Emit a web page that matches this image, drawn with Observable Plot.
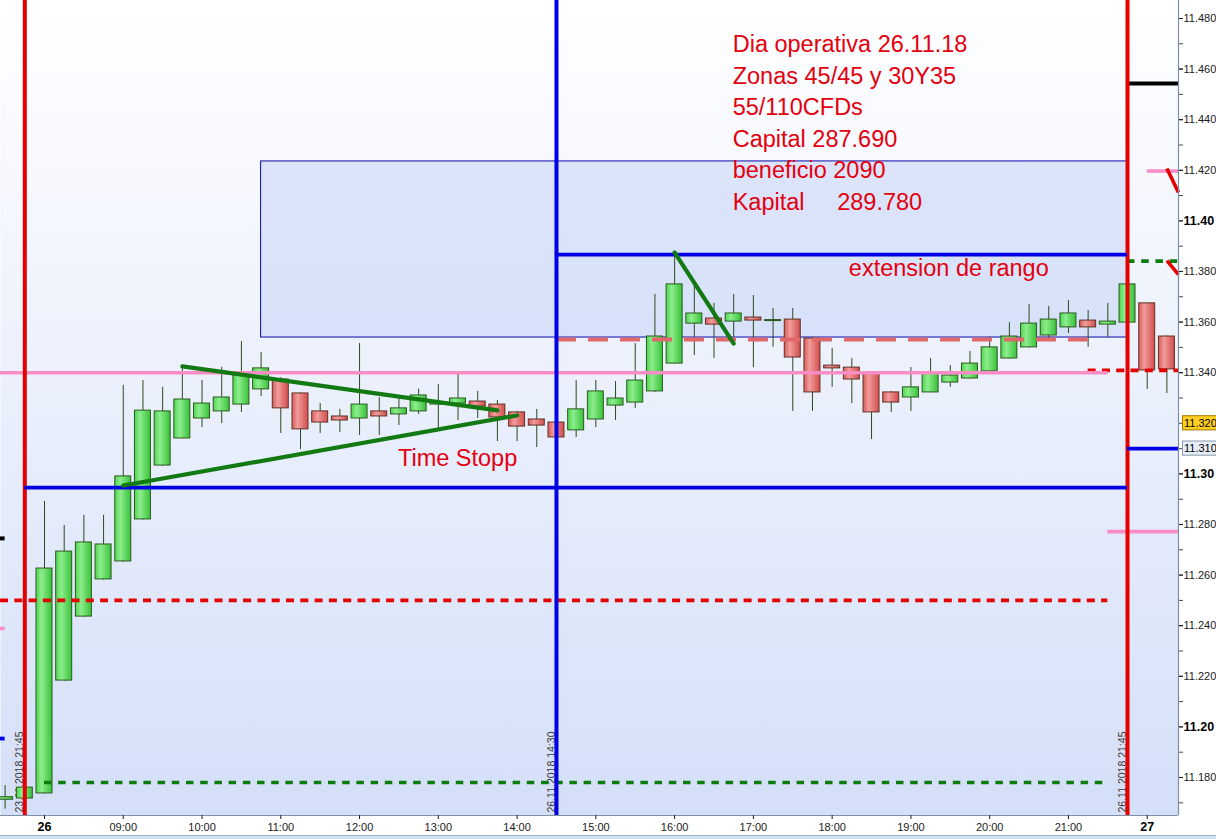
<!DOCTYPE html>
<html>
<head>
<meta charset="utf-8">
<script src="https://cdn.jsdelivr.net/npm/d3@7"></script>
<script src="https://cdn.jsdelivr.net/npm/@observablehq/plot@0.6"></script>
<style>
  html, body { margin: 0; padding: 0; background: #fff; overflow: hidden; }
  #chart svg { display: block; overflow: hidden; }
  #strip { height: 4px; width: 1216px; background: #cfe2ee; border-top: 1px solid #9eb1c2; box-sizing: border-box; }
</style>
</head>
<body>
<div id="chart"></div>
<div id="strip"></div>
<script>
// 15-minute candles, sessions 08:00-21:45
const times = [
  "2018-11-23 21:30","2018-11-23 21:45",
  "2018-11-26 08:00","2018-11-26 08:15","2018-11-26 08:30","2018-11-26 08:45",
  "2018-11-26 09:00","2018-11-26 09:15","2018-11-26 09:30","2018-11-26 09:45",
  "2018-11-26 10:00","2018-11-26 10:15","2018-11-26 10:30","2018-11-26 10:45",
  "2018-11-26 11:00","2018-11-26 11:15","2018-11-26 11:30","2018-11-26 11:45",
  "2018-11-26 12:00","2018-11-26 12:15","2018-11-26 12:30","2018-11-26 12:45",
  "2018-11-26 13:00","2018-11-26 13:15","2018-11-26 13:30","2018-11-26 13:45",
  "2018-11-26 14:00","2018-11-26 14:15","2018-11-26 14:30","2018-11-26 14:45",
  "2018-11-26 15:00","2018-11-26 15:15","2018-11-26 15:30","2018-11-26 15:45",
  "2018-11-26 16:00","2018-11-26 16:15","2018-11-26 16:30","2018-11-26 16:45",
  "2018-11-26 17:00","2018-11-26 17:15","2018-11-26 17:30","2018-11-26 17:45",
  "2018-11-26 18:00","2018-11-26 18:15","2018-11-26 18:30","2018-11-26 18:45",
  "2018-11-26 19:00","2018-11-26 19:15","2018-11-26 19:30","2018-11-26 19:45",
  "2018-11-26 20:00","2018-11-26 20:15","2018-11-26 20:30","2018-11-26 20:45",
  "2018-11-26 21:00","2018-11-26 21:15","2018-11-26 21:30","2018-11-26 21:45",
  "2018-11-27 08:00","2018-11-27 08:15"
];
const open = [
  11.1712,11.1717,
  11.1737,11.2183,11.2436,11.2583,11.2654,11.2820,11.3033,11.3140,
  11.3219,11.3247,11.3274,11.3334,11.3373,11.3318,11.3247,11.3227,
  11.3219,11.3247,11.3235,11.3247,11.3274,11.3278,11.3286,11.3274,
  11.3243,11.3215,11.3203,11.3172,11.3215,11.3270,11.3282,11.3326,
  11.3436,11.3594,11.3614,11.3602,11.3618,11.3604,11.3610,11.3535,
  11.3428,11.3420,11.3397,11.3322,11.3302,11.3322,11.3361,11.3377,
  11.3405,11.3456,11.3500,11.3547,11.3579,11.3606,11.3590,11.3598,
  11.3674,11.3543
];
const high = [
  11.1768,11.1770,
  11.2891,11.2796,11.2836,11.2836,11.3350,11.3369,11.3342,11.3425,
  11.3369,11.3421,11.3523,11.3480,11.3380,11.3320,11.3278,11.3255,
  11.3515,11.3302,11.3298,11.3335,11.3353,11.3393,11.3326,11.3290,
  11.3247,11.3255,11.3210,11.3369,11.3369,11.3365,11.3515,11.3709,
  11.3870,11.3753,11.3674,11.3709,11.3705,11.3654,11.3654,11.3540,
  11.3496,11.3456,11.3400,11.3326,11.3420,11.3456,11.3428,11.3484,
  11.3540,11.3598,11.3670,11.3662,11.3685,11.3646,11.3674,11.3752,
  11.3676,11.3545
];
const low = [
  11.1675,11.1712,
  11.1735,11.2180,11.2434,11.2580,11.2650,11.2818,11.3030,11.3138,
  11.3183,11.3199,11.3243,11.3306,11.3160,11.3096,11.3160,11.3164,
  11.3152,11.3152,11.3191,11.3235,11.3180,11.3211,11.3219,11.3128,
  11.3128,11.3104,11.3140,11.3144,11.3183,11.3211,11.3259,11.3322,
  11.3434,11.3468,11.3456,11.3540,11.3420,11.3500,11.3247,11.3247,
  11.3342,11.3278,11.3136,11.3243,11.3247,11.3320,11.3342,11.3375,
  11.3403,11.3454,11.3497,11.3531,11.3555,11.3500,11.3540,11.3596,
  11.3334,11.3318
];
const close = [
  11.1722,11.1760,
  11.2626,11.2693,11.2729,11.2721,11.2990,11.3250,11.3247,11.3294,
  11.3278,11.3302,11.3389,11.3417,11.3259,11.3176,11.3203,11.3211,
  11.3274,11.3227,11.3259,11.3310,11.3282,11.3298,11.3266,11.3223,
  11.3187,11.3191,11.3144,11.3255,11.3326,11.3298,11.3369,11.3543,
  11.3749,11.3634,11.3590,11.3634,11.3606,11.3608,11.3460,11.3322,
  11.3417,11.3373,11.3243,11.3282,11.3342,11.3397,11.3389,11.3436,
  11.3500,11.3543,11.3594,11.3610,11.3634,11.3579,11.3602,11.3749,
  11.3409,11.3413
];

// session markers
const sessionEnds = ["2018-11-23 21:45", "2018-11-26 21:45"];
const sessionMarks = ["2018-11-26 14:30"];

// horizontal levels (from/to: candle slot, null = chart edge)
const pinkLevels = [
  {price: 11.3400, from: null, to: "2018-11-26 21:30"},
  {price: 11.2772, from: "2018-11-26 21:30", to: null},
  {price: 11.4197, from: "2018-11-27 08:00", to: null},
  {price: 11.2389, from: null, to: "2018-11-23 21:30"}
];
const blueLevels = [
  {price: 11.2946, from: "2018-11-23 21:45", to: "2018-11-26 21:45"},
  {price: 11.3867, from: "2018-11-26 14:30", to: "2018-11-26 21:45"},
  {price: 11.3100, from: "2018-11-26 21:45", to: null},
  {price: 11.1954, from: null, to: "2018-11-23 21:30"}
];
const blackLevels = [
  {price: 11.4543, from: "2018-11-26 21:45", to: null},
  {price: 11.2745, from: null, to: "2018-11-23 21:30"}
];
const redDashedLevels = [
  {price: 11.2500, from: null, to: "2018-11-26 21:30"},
  {price: 11.3409, from: "2018-11-26 21:15", to: null}
];
const greenDashedLevels = [
  {price: 11.1780, from: "2018-11-26 08:00", to: "2018-11-26 21:30"},
  {price: 11.3841, from: "2018-11-26 21:45", to: null}
];
const salmonDashedLevels = [
  {price: 11.3531, from: "2018-11-26 14:30", to: "2018-11-26 21:15"}
];

// range zone
const zones = [{top: 11.4235, bottom: 11.3539, from: "2018-11-26 10:45", to: "2018-11-26 21:45"}];

// hand-drawn trend lines
const trendLines = [
  {from: "2018-11-26 09:45", p1: 11.3425, to: "2018-11-26 13:45", p2: 11.3251},
  {from: "2018-11-26 09:00", p1: 11.2954, to: "2018-11-26 14:00", p2: 11.3231},
  {from: "2018-11-26 16:00", p1: 11.3875, to: "2018-11-26 16:45", p2: 11.3515}
];
const redStrokes = [
  {from: "2018-11-27 08:15", p1: 11.4207, to: null, p2: 11.4112},
  {from: "2018-11-27 08:15", p1: 11.3843, to: null, p2: 11.3788}
];

const noteLines = [
  "Dia operativa 26.11.18",
  "Zonas 45/45 y 30Y35",
  "55/110CFDs",
  "Capital 287.690",
  "beneficio 2090",
  "Kapital     289.780"
];

// price-axis labels
const priceLabels = [11.48, 11.46, 11.44, 11.42, 11.38, 11.36, 11.34, 11.28, 11.26, 11.24, 11.22, 11.18];
const priceLabelsBold = [11.40, 11.30, 11.20];
const priceTicks = d3.range(11.17, 11.4801, 0.01);
const priceBadges = [11.320];
const lineBadges = [11.310];

// ---- derived ----
const slot = t => times.indexOf(t);
const candles = times.map((t, k) => ({k, t, o: open[k], h: high[k], l: low[k], c: close[k]}));
const up = candles.filter(d => d.c >= d.o);
const down = candles.filter(d => d.c < d.o);

const xDomain = [-0.2345, 59.589];
const yDomain = [11.16498, 11.48711];
const [xLo, xHi] = xDomain;
const [yLo] = yDomain;
const x1 = d => d.from == null ? xLo : slot(d.from);
const x2 = d => d.to == null ? xHi : slot(d.to);

const dayStarts = times.map((t, k) => k).filter(k => k > 0 && times[k].slice(0, 10) !== times[k - 1].slice(0, 10) && times[k].endsWith("08:00"));
const hourTicks = times.map((t, k) => k).filter(k => times[k].endsWith(":00") && !dayStarts.includes(k));
const markerLabel = t => `${t.slice(8, 10)}.${t.slice(5, 7)}.${t.slice(0, 4)} ${t.slice(11)}`;

const halfBody = 0.406;
const red = "#e50000", blue = "#0000e6", pink = "#fa8cc6", dkGreen = "#0c7c0c";

const chart = Plot.plot({
  width: 1216,
  height: 835,
  marginLeft: 0,
  marginRight: 38,
  marginTop: 0,
  marginBottom: 20,
  x: {domain: xDomain},
  y: {domain: yDomain},
  style: {fontFamily: "'Liberation Sans', Arial, sans-serif", fontSize: "11px", color: "#1a1a1a", background: "#fff"},
  marks: [
    Plot.frame({fill: "url(#bgGrad)", stroke: null}),
    // range zone
    Plot.rect(zones, {x1, x2, y1: "bottom", y2: "top", fill: "rgb(196,212,246)", fillOpacity: 0.55, stroke: "#0a0aa8", strokeWidth: 1}),
    // session timestamps
    Plot.text([...sessionEnds, ...sessionMarks], {
      x: slot, y: yLo, text: markerLabel, rotate: -90, textAnchor: "start",
      dx: -5, dy: -3, fontSize: 10.5, fill: "#3a3a3a"
    }),
    // candles
    Plot.ruleX(candles, {x: "k", y1: "l", y2: "h", stroke: "#2c4a1c", strokeWidth: 1}),
    Plot.rect(up, {x1: d => d.k - halfBody, x2: d => d.k + halfBody, y1: "o", y2: "c", fill: "url(#upGrad)", stroke: "#2a5a1e", strokeWidth: 1}),
    Plot.rect(down, {x1: d => d.k - halfBody, x2: d => d.k + halfBody, y1: "o", y2: "c", fill: "url(#dnGrad)", stroke: "#5e3326", strokeWidth: 1}),
    // levels
    Plot.ruleY(redDashedLevels, {y: "price", x1, x2, stroke: red, strokeWidth: 3.6, strokeDasharray: "8,6.3"}),
    Plot.ruleY(greenDashedLevels, {y: "price", x1, x2, stroke: dkGreen, strokeWidth: 3.6, strokeDasharray: "7.5,6.7"}),
    Plot.ruleY(salmonDashedLevels, {y: "price", x1, x2, stroke: "#e0676a", strokeWidth: 4, strokeDasharray: "20,12"}),
    Plot.ruleY(pinkLevels, {y: "price", x1, x2, stroke: pink, strokeWidth: 3.6}),
    Plot.ruleY(blackLevels, {y: "price", x1, x2, stroke: "#000", strokeWidth: 4}),
    // session lines
    Plot.ruleX(sessionEnds, {x: slot, stroke: red, strokeWidth: 4}),
    Plot.ruleX(sessionMarks, {x: slot, stroke: blue, strokeWidth: 4}),
    Plot.ruleY(blueLevels, {y: "price", x1, x2, stroke: blue, strokeWidth: 3.8}),
    // trend lines
    Plot.link(trendLines, {x1: d => slot(d.from), y1: "p1", x2: d => slot(d.to), y2: "p2", stroke: "#137a13", strokeWidth: 4.2, strokeLinecap: "round"}),
    Plot.link(redStrokes, {x1: d => slot(d.from), y1: "p1", x2: d => d.to == null ? xHi : slot(d.to), y2: "p2", stroke: red, strokeWidth: 3.6}),
    // notes
    Plot.text([noteLines.join("\n")], {
      x: slot("2018-11-26 16:45"), y: 11.47554, text: d => d, textAnchor: "start", lineAnchor: "top",
      lineHeight: 1.343, dx: -1, fontSize: 23.5, fill: "#e3000f"
    }),
    Plot.text(["extension de rango"], {x: slot("2018-11-26 18:15"), y: 11.38138, text: d => d, textAnchor: "start", dx: -3, fontSize: 23.5, fill: "#e3000f"}),
    Plot.text(["Time Stopp"], {x: slot("2018-11-26 12:30"), y: 11.30628, text: d => d, textAnchor: "start", dx: -1, fontSize: 23.5, fill: "#e3000f"}),
    // axes
    Plot.ruleY([yLo], {stroke: "#7e90a8", strokeWidth: 1.2}),
    Plot.ruleX([xHi], {stroke: "#7e90a8", strokeWidth: 1.2}),
    Plot.axisY({anchor: "right", ticks: priceTicks, tickSize: 4, tickFormat: () => "", stroke: "#4a4a4a"}),
    Plot.axisY({anchor: "right", ticks: priceLabels, tickSize: 4, tickPadding: 1, tickFormat: d3.format(".3f"), fontSize: 11, fill: "#1a1a1a", label: null}),
    Plot.axisY({anchor: "right", ticks: priceLabelsBold, tickSize: 4, tickPadding: 1, tickFormat: d3.format(".2f"), fontSize: 12.5, fontWeight: "bold", fill: "#000", label: null}),
    Plot.axisX({anchor: "bottom", ticks: hourTicks, tickSize: 4, tickPadding: 4, tickFormat: k => times[k].slice(11), fontSize: 11, fill: "#1a1a1a", label: null}),
    Plot.axisX({anchor: "bottom", ticks: dayStarts, tickSize: 4, tickPadding: 3, tickFormat: k => String(+times[k].slice(8, 10)), fontSize: 12.5, fontWeight: "bold", fill: "#000", label: null}),
    // price badges
    Plot.rect(priceBadges, {x1: xHi, x2: xHi + 2.5, y1: p => p - 0.0028, y2: p => p + 0.0028, dx: 4.5, fill: "#ffcf1f", stroke: "#a07800"}),
    Plot.text(priceBadges, {x: xHi, y: p => p, text: d3.format(".3f"), textAnchor: "start", dx: 5.5, fontSize: 11, fill: "#000"}),
    Plot.rect(lineBadges, {x1: xHi, x2: xHi + 2.5, y1: p => p - 0.0028, y2: p => p + 0.0028, dx: 4.5, fill: "#e6edf6", stroke: "#8a9bb2"}),
    Plot.text(lineBadges, {x: xHi, y: p => p, text: d3.format(".3f"), textAnchor: "start", dx: 5.5, fontSize: 11, fill: "#000"})
  ]
});

chart.insertAdjacentHTML("afterbegin", `
<defs>
  <linearGradient id="bgGrad" x1="0" y1="0" x2="0" y2="1">
    <stop offset="0" stop-color="#ffffff"/>
    <stop offset="1" stop-color="#d4dff8"/>
  </linearGradient>
  <linearGradient id="upGrad" x1="0" y1="0" x2="1" y2="0">
    <stop offset="0" stop-color="#52d652"/>
    <stop offset="0.35" stop-color="#8ced8c"/>
    <stop offset="1" stop-color="#39c239"/>
  </linearGradient>
  <linearGradient id="dnGrad" x1="0" y1="0" x2="1" y2="0">
    <stop offset="0" stop-color="#dc5a5a"/>
    <stop offset="0.35" stop-color="#f19c9c"/>
    <stop offset="1" stop-color="#d44c4c"/>
  </linearGradient>
</defs>`);

document.getElementById("chart").appendChild(chart);
</script>
</body>
</html>
